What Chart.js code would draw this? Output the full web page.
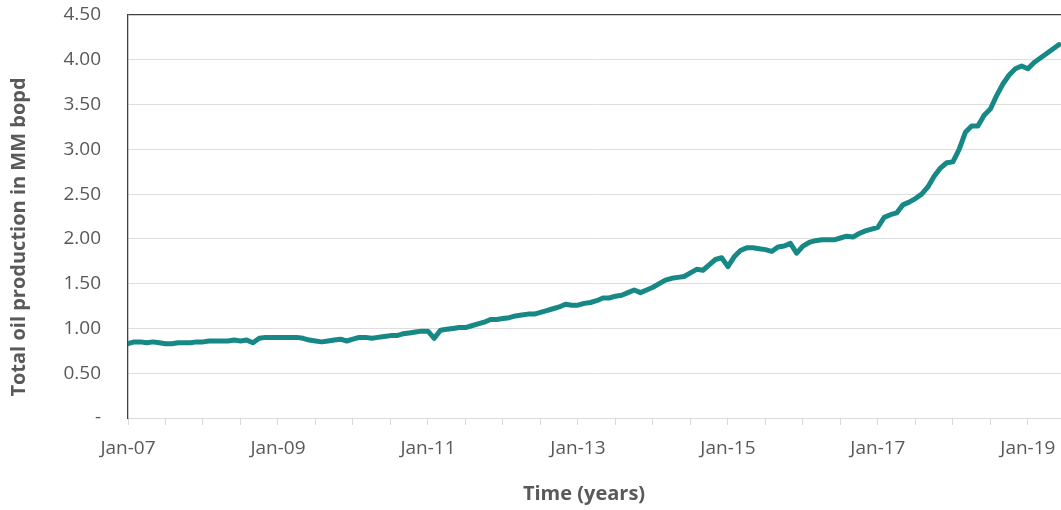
<!DOCTYPE html>
<html>
<head>
<meta charset="utf-8">
<script src="https://cdn.jsdelivr.net/npm/chart.js@4"></script>
<style>
  html, body { margin: 0; padding: 0; background: #fff; }
  #wrap { width: 1061px; height: 510px; position: relative; }
</style>
</head>
<body>
<div id="wrap"><canvas id="oilChart"></canvas></div>
<script>
// monthly production, Jan-07 onwards (MM bopd)
const startYear = 2007;
const production = [
  0.83, 0.85, 0.85, 0.84, 0.85, 0.84, 0.83, 0.83, 0.84, 0.84, 0.84, 0.85,
  0.85, 0.86, 0.86, 0.86, 0.86, 0.87, 0.86, 0.87, 0.84, 0.89, 0.90, 0.90,
  0.90, 0.90, 0.90, 0.90, 0.89, 0.87, 0.86, 0.85, 0.86, 0.87, 0.88, 0.86,
  0.88, 0.90, 0.90, 0.89, 0.90, 0.91, 0.92, 0.92, 0.94, 0.95, 0.96, 0.97,
  0.97, 0.89, 0.98, 0.99, 1.00, 1.01, 1.01, 1.03, 1.05, 1.07, 1.10, 1.10,
  1.11, 1.12, 1.14, 1.15, 1.16, 1.16, 1.18, 1.20, 1.22, 1.24, 1.27, 1.26,
  1.26, 1.28, 1.29, 1.31, 1.34, 1.34, 1.36, 1.37, 1.40, 1.43, 1.40, 1.43,
  1.46, 1.50, 1.54, 1.56, 1.57, 1.58, 1.62, 1.66, 1.65, 1.71, 1.77, 1.79,
  1.69, 1.80, 1.87, 1.90, 1.90, 1.89, 1.88, 1.86, 1.91, 1.92, 1.95, 1.84,
  1.92, 1.96, 1.98, 1.99, 1.99, 1.99, 2.01, 2.03, 2.02, 2.06, 2.09, 2.11,
  2.13, 2.24, 2.27, 2.29, 2.38, 2.41, 2.45, 2.50, 2.58, 2.70, 2.79, 2.85,
  2.86, 3.00, 3.19, 3.26, 3.26, 3.38, 3.45, 3.60, 3.73, 3.83, 3.90, 3.93,
  3.90, 3.97, 4.02, 4.07, 4.12, 4.17
];
const yTicks = [0, 0.5, 1, 1.5, 2, 2.5, 3, 3.5, 4, 4.5];
const xLabelMonths = [0, 24, 48, 72, 96, 120, 144];

const textColor = '#595959';
const fontFamily = "'Open Sans', sans-serif";

const points = production.map((v, i) => ({ x: i, y: v }));

// axis titles drawn by hand so they sit where the original has them
const axisTitles = {
  id: 'axisTitles',
  afterDraw(chart) {
    const ctx = chart.ctx;
    ctx.save();
    ctx.fillStyle = textColor;
    ctx.font = "bold 20px " + fontFamily;
    ctx.textAlign = 'center';
    ctx.textBaseline = 'middle';
    ctx.fillText('Time (years)', 584, 494);
    ctx.translate(19, 237);
    ctx.rotate(-Math.PI / 2);
    ctx.fillText('Total oil production in MM bopd', 0, 0);
    ctx.restore();
  }
};

new Chart(document.getElementById('oilChart'), {
  type: 'line',
  data: {
    datasets: [{
      data: points,
      borderColor: '#168886',
      borderWidth: 5,
      pointRadius: 0,
      tension: 0,
      borderJoinStyle: 'round',
      borderCapStyle: 'round'
    }]
  },
  options: {
    responsive: true,
    maintainAspectRatio: false,
    animation: false,
    layout: { padding: { top: 15, right: 0, left: 0, bottom: 0 } },
    plugins: {
      legend: { display: false },
      tooltip: { enabled: false }
    },
    scales: {
      x: {
        type: 'linear',
        min: 0,
        max: 149.3,
        afterFit: scale => {
          scale.height = 92;
          scale.paddingLeft = 0;
          scale.paddingRight = 0;
        },
        afterBuildTicks: scale => {
          const t = [];
          for (let m = 0; m <= 144; m += 6) t.push({ value: m });
          scale.ticks = t;
        },
        grid: {
          drawOnChartArea: false,
          drawTicks: true,
          tickLength: 7,
          color: '#d9d9d9'
        },
        border: { color: '#d9d9d9', width: 1 },
        ticks: {
          autoSkip: false,
          maxRotation: 0,
          padding: 12,
          color: textColor,
          font: { family: fontFamily, size: 19 },
          callback: value => {
            if (!xLabelMonths.includes(value)) return '';
            const yr = startYear + value / 12;
            return 'Jan-' + String(yr).slice(2);
          }
        }
      },
      y: {
        min: 0,
        max: 4.5,
        afterFit: scale => {
          scale.width = 128;
          scale.paddingTop = 0;
          scale.paddingBottom = 0;
        },
        afterBuildTicks: scale => {
          scale.ticks = yTicks.map(v => ({ value: v }));
        },
        grid: {
          drawTicks: false,
          color: ctx => ctx.tick && ctx.tick.value === 4.5 ? '#404040' : '#dedede',
          lineWidth: ctx => ctx.tick && ctx.tick.value === 4.5 ? 1.3 : 1
        },
        border: { color: '#404040', width: 1.3 },
        ticks: {
          padding: 27,
          color: textColor,
          font: { family: fontFamily, size: 19 },
          callback: value => value === 0 ? '-' : value.toFixed(2)
        }
      }
    }
  },
  plugins: [axisTitles]
});
</script>
</body>
</html>
